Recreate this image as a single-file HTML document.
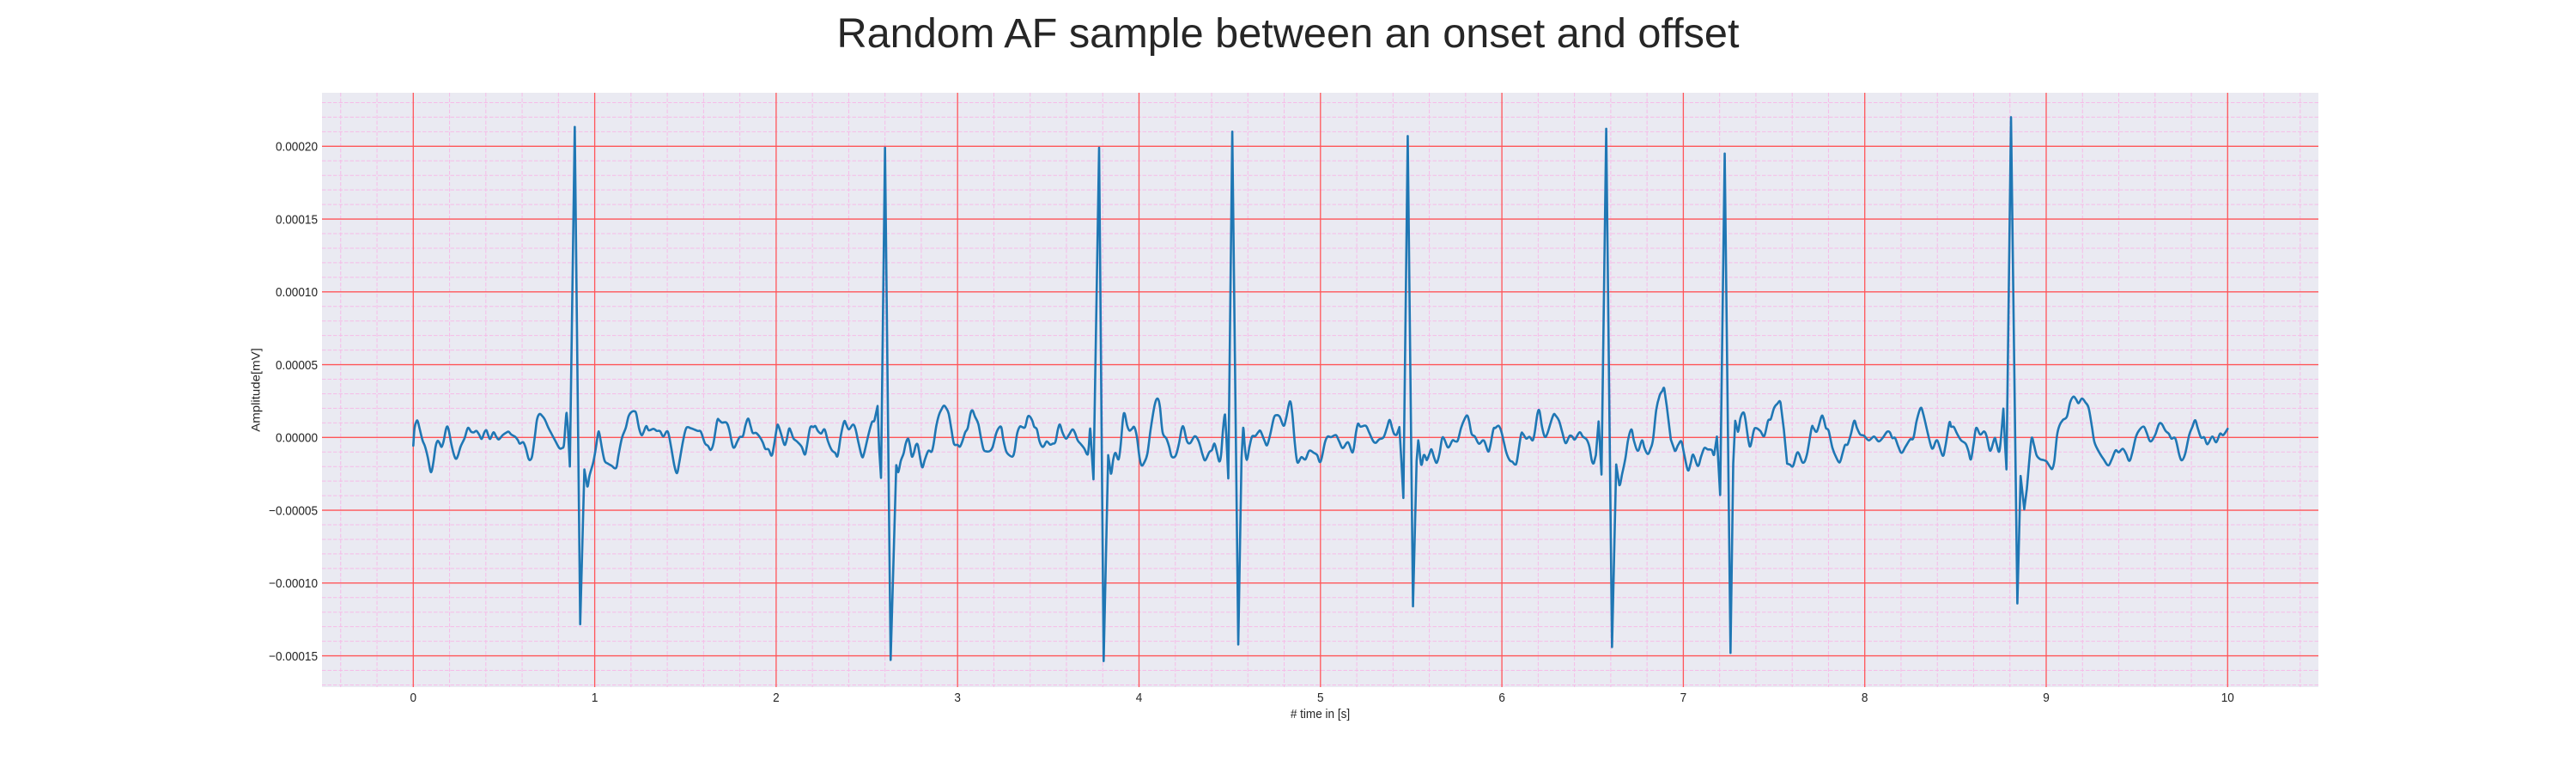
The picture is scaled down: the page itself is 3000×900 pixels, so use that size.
<!DOCTYPE html>
<html lang="en">
<head>
<meta charset="utf-8">
<title>Random AF sample between an onset and offset</title>
<style>
html,body{margin:0;padding:0;background:#fff;}
svg{display:block;}
text{font-family:"Liberation Sans",Arial,sans-serif;fill:#262626;}
</style>
</head>
<body>
<svg id="chart" xmlns="http://www.w3.org/2000/svg" width="3000" height="900" viewBox="0 0 3000 900">
  <rect x="0" y="0" width="3000" height="900" fill="#ffffff"/>
  <rect x="375" y="108" width="2325" height="692" fill="#eaeaf2"/>
  <g id="minor-grid"></g>
  <g id="major-grid"></g>
  <path id="ecg-line" fill="none" stroke="#1f77b4" stroke-width="2.6" stroke-linejoin="round" stroke-linecap="round"/>
  <g id="x-ticks"></g>
  <g id="y-ticks"></g>
  <text x="1500" y="55" text-anchor="middle" font-size="48.5" textLength="1051" lengthAdjust="spacingAndGlyphs">Random AF sample between an onset and offset</text>
  <text transform="translate(1537.5,836) scale(0.905,1)" text-anchor="middle" font-size="15"># time in [s]</text>
  <text transform="translate(302.5,454) rotate(-90) scale(1,0.905)" text-anchor="middle" font-size="15">Amplitude[mV]</text>
</svg>
<script>
// Tick values and labels
const xTickValues = [0,1,2,3,4,5,6,7,8,9,10];
const xTickLabels = ["0","1","2","3","4","5","6","7","8","9","10"];
const yTickValues = [-15,-10,-5,0,5,10,15,20]; // in 1e-5 mV
const yTickLabels = ["\u22120.00015","\u22120.00010","\u22120.00005","0.00000","0.00005","0.00010","0.00015","0.00020"];
const xMinorValues = [-0.4,-0.2,0.2,0.4,0.6,0.8,1.2,1.4,1.6,1.8,2.2,2.4,2.6,2.8,3.2,3.4,3.6,3.8,4.2,4.4,4.6,4.8,5.2,5.4,5.6,5.8,6.2,6.4,6.6,6.8,7.2,7.4,7.6,7.8,8.2,8.4,8.6,8.8,9.2,9.4,9.6,9.8,10.2,10.4];
const yMinorValues = [-17,-16,-14,-13,-12,-11,-9,-8,-7,-6,-4,-3,-2,-1,1,2,3,4,6,7,8,9,11,12,13,14,16,17,18,19,21,22,23];

// Signal: time in seconds
const timeSeconds = [
0,.007,.018,.025,.036,.051,.065,.080,.094,.102,.112,.123,.134,.145,.156,.167,.180,.189,.198,.210,.225,.236,.247,.261,.283,.301,.319,.334,.348,.363,.377,.392,.403,.413,.424,.442,.457,.471,.493,.515,.526,.540,.562,.577,.587,.606,.620,.635,.646,.656,.671,.682,.696,.711,.725,.743,.762,.783,.805,.820,.830,.838,.845,.852,.863,.890,.920,.943,.959,.972,.992,
1.005,1.019,1.026,1.041,1.055,1.073,1.095,1.110,1.121,1.131,1.150,1.171,1.186,1.200,1.218,1.229,1.244,1.258,1.269,1.284,1.298,1.324,1.342,1.360,1.378,1.396,1.407,1.422,1.440,1.454,1.465,1.487,1.505,1.530,1.567,1.585,1.607,1.625,1.639,1.654,1.675,1.686,1.701,1.726,1.741,1.759,1.770,1.784,1.799,1.817,1.831,1.846,1.860,1.871,1.889,1.908,1.926,1.940,1.958,1.975,1.987,
2.005,2.013,2.027,2.045,2.056,2.071,2.082,2.096,2.114,2.140,2.158,2.169,2.187,2.205,2.216,2.230,2.248,2.267,2.285,2.306,2.325,2.339,2.357,2.375,2.386,2.401,2.423,2.437,2.455,2.473,2.484,2.510,2.528,2.542,2.559,2.568,2.578,2.600,2.631,2.662,2.673,2.687,2.702,2.714,2.727,2.737,2.748,2.759,2.770,2.781,2.795,2.806,2.820,2.839,2.857,2.868,2.882,2.897,2.911,2.924,2.937,2.951,2.966,2.980,
3.000,3.013,3.027,3.042,3.056,3.071,3.082,3.096,3.114,3.129,3.143,3.158,3.180,3.194,3.212,3.227,3.241,3.252,3.267,3.281,3.303,3.314,3.328,3.343,3.357,3.372,3.386,3.397,3.412,3.422,3.437,3.451,3.466,3.477,3.491,3.510,3.524,3.539,3.553,3.564,3.578,3.597,3.615,3.633,3.647,3.662,3.680,3.698,3.716,3.723,3.731,3.738,3.749,3.780,3.805,3.830,3.845,3.858,3.870,3.887,3.898,3.912,3.921,3.934,3.947,3.961,3.974,3.988,
4.003,4.014,4.028,4.046,4.064,4.086,4.102,4.115,4.130,4.151,4.166,4.180,4.202,4.220,4.235,4.246,4.264,4.282,4.307,4.329,4.351,4.365,4.387,4.402,4.416,4.431,4.442,4.452,4.463,4.474,4.481,4.492,4.514,4.547,4.565,4.574,4.583,4.594,4.609,4.623,4.641,4.659,4.670,4.692,4.706,4.724,4.743,4.757,4.775,4.797,4.811,4.831,4.844,4.859,4.873,4.895,4.917,4.938,4.964,4.982,4.996,
5.007,5.025,5.040,5.058,5.085,5.102,5.123,5.152,5.178,5.196,5.207,5.221,5.250,5.268,5.290,5.305,5.323,5.348,5.366,5.381,5.395,5.406,5.421,5.435,5.446,5.457,5.481,5.510,5.530,5.539,5.555,5.569,5.580,5.587,5.601,5.612,5.627,5.641,5.656,5.670,5.681,5.699,5.710,5.728,5.743,5.757,5.775,5.793,5.808,5.819,5.833,5.851,5.873,5.895,5.906,5.924,5.935,5.953,5.964,5.982,5.996,
6.011,6.025,6.043,6.058,6.072,6.083,6.105,6.116,6.134,6.152,6.170,6.181,6.196,6.207,6.221,6.236,6.250,6.272,6.286,6.297,6.315,6.333,6.351,6.373,6.388,6.402,6.428,6.446,6.467,6.482,6.496,6.507,6.518,6.533,6.540,6.549,6.575,6.607,6.630,6.647,6.663,6.681,6.696,6.714,6.728,6.750,6.772,6.786,6.804,6.819,6.833,6.851,6.870,6.884,6.895,6.909,6.931,6.953,6.971,6.989,
7.004,7.025,7.040,7.054,7.080,7.098,7.116,7.134,7.156,7.170,7.185,7.203,7.228,7.260,7.275,7.286,7.301,7.315,7.330,7.341,7.359,7.370,7.388,7.399,7.424,7.446,7.467,7.482,7.500,7.518,7.536,7.554,7.572,7.587,7.605,7.630,7.659,7.681,7.707,7.717,7.736,7.761,7.772,7.786,7.801,7.822,7.844,7.862,7.877,7.891,7.906,7.924,7.942,7.957,7.975,7.996,
8.022,8.051,8.076,8.098,8.123,8.138,8.152,8.167,8.185,8.203,8.225,8.250,8.268,8.286,8.308,8.322,8.348,8.366,8.377,8.399,8.429,8.444,8.466,8.476,8.491,8.509,8.531,8.556,8.571,8.585,8.600,8.614,8.636,8.658,8.672,8.687,8.697,8.716,8.726,8.741,8.752,8.764,8.772,8.781,8.806,8.841,8.859,8.879,8.893,8.908,8.920,8.933,8.947,8.966,8.984,
9.002,9.020,9.033,9.045,9.060,9.074,9.092,9.114,9.132,9.150,9.165,9.178,9.197,9.216,9.234,9.252,9.266,9.292,9.317,9.342,9.361,9.382,9.400,9.422,9.440,9.458,9.473,9.495,9.516,9.538,9.553,9.574,9.600,9.621,9.636,9.658,9.676,9.690,9.712,9.734,9.748,9.766,9.788,9.806,9.821,9.835,9.853,9.871,9.889,9.915,9.937,9.958,9.976,10
];

// Signal: amplitude in units of 1e-5 mV
const amplitudeE5 = [
-.57,.65,1.12,1.10,.55,-.20,-.63,-1.37,-2.29,-2.29,-1.61,-.63,-.24,-.39,-.65,-.27,.55,.74,.35,-.47,-1.22,-1.47,-1.22,-.63,-.04,.65,.39,.35,.45,.20,-.10,.35,.49,.16,-.10,.35,.06,-.14,.16,.35,.39,.20,.04,-.20,-.43,-.33,-.73,-1.45,-1.53,-1.22,.16,1.23,1.61,1.47,1.23,.71,.25,-.24,-.73,-.73,-.53,.74,1.69,.74,-2.00,21.33,-12.83,-2.20,-3.37,-2.59,-1.71,
-.82,.31,.25,-.82,-1.61,-1.80,-1.96,-2.12,-2.00,-1.22,-.04,.65,1.43,1.72,1.80,1.63,.65,.16,.35,.78,.49,.59,.45,.43,.06,.41,.25,-.73,-2.00,-2.45,-1.80,-.24,.65,.63,.45,.39,-.39,-.59,-.86,-.43,1.14,1.18,1.02,1.02,.55,-.53,-.69,-.33,.02,.10,.84,1.29,.74,.31,.31,.06,-.33,-.78,-.82,-1.25,-.63,
.74,.78,.25,-.49,-.27,.59,.39,-.08,-.27,-.63,-1.18,-.63,.65,.71,.78,.45,.27,.55,-.24,-.86,-1.06,-1.25,.16,1.10,.90,.55,.88,.59,-.43,-1.31,-1.12,.25,1.04,1.18,2.16,-.82,-2.78,19.9,-15.28,-1.90,-2.39,-1.61,-1.12,-.43,-.08,-.53,-1.31,-1.06,-.53,-.53,-1.51,-2.06,-1.51,-.92,-.98,-.43,.74,1.53,1.92,2.18,2.02,1.63,.55,-.43,
-.51,-.63,-.24,.35,.65,1.63,1.86,1.43,.94,-.04,-.82,-.96,-.92,-.63,.25,.65,.69,-.14,-.92,-1.18,-1.31,-.92,.25,.74,.71,.71,1.39,1.45,1.14,.74,.55,-.24,-.63,-.57,-.27,-.49,-.43,-.31,.55,.88,.35,-.08,.20,.55,.31,-.20,-.47,-.76,-1.18,-.63,.61,-.82,-2.88,19.9,-15.36,-1.22,-2.49,-1.51,-1.06,-1.51,-.63,1.33,1.63,.84,.47,.59,.71,.06,
-1.41,-1.92,-1.74,-1.12,.55,2.21,2.67,2.12,.35,-.08,-.63,-1.31,-1.25,-.43,.59,.69,-.24,-.39,.08,-.27,-1.22,-1.57,-1.02,-.86,-.43,-1.12,-1.65,-1.22,.55,1.57,.16,-2.82,21.0,-14.22,-1.41,.65,-.63,-1.55,-.63,.06,.10,.39,.43,-.24,-.53,.25,1.33,1.53,1.43,.80,1.33,2.47,1.72,-.43,-1.71,-1.35,-1.51,-.92,-1.06,-1.22,-1.69,
-1.41,-.33,.06,.02,.16,-.24,-.73,-.33,-1.02,.35,.94,.74,.80,.35,-.24,-.37,-.14,.02,.65,1.20,.65,.25,.20,.71,-1.61,-4.16,20.7,-11.6,-1.61,-.20,-1.86,-1.22,-1.37,-1.55,-1.12,-.82,-1.41,-1.74,-1.12,-.08,-.08,-.63,-.63,-.20,-.27,-.20,.65,1.23,1.51,1.14,.25,.06,-.43,-.20,-.33,-.96,-.63,.55,.65,.80,.45,
-.33,-1.06,-1.57,-1.67,-1.86,-1.61,.16,.25,-.08,.04,-.20,.35,1.63,1.82,.74,.06,.25,1.14,1.59,1.49,1.14,.35,-.39,.10,.06,-.14,.35,.06,-.14,-.63,-1.61,-1.76,-1.22,1.10,-.43,-2.55,21.2,-14.4,-1.86,-3.27,-2.49,-1.41,-.14,.55,-.24,-.92,-.20,-.73,-1.14,-.78,-.14,1.92,2.90,3.19,3.35,2.12,-.14,-.92,-.53,-.27,
-1.12,-2.25,-1.80,-1.18,-1.96,-1.31,-.73,-.82,-.86,-1.18,.06,-3.96,19.5,-14.8,-1.80,1.14,.39,1.33,1.72,1.33,-.24,-.59,.45,.65,.45,.10,1.14,1.27,2.02,2.31,2.37,.55,-1.80,-1.86,-1.96,-1.02,-1.74,-1.18,.65,.65,.41,1.43,1.33,.65,.45,-.73,-1.41,-1.71,-1.12,-.53,-.47,.25,1.14,.65,.20,.12,
-.20,.06,-.27,-.04,.39,.35,-.04,-.04,-.63,-1.06,-.63,-.14,-.04,1.14,2.02,1.63,.25,-.63,-.73,-.20,-1.25,-.63,1.00,.74,.71,.25,-.20,-.43,-.92,-1.51,-.43,.65,.20,.41,.06,-.82,-.82,-.04,-.43,-.98,.16,1.98,-.24,-2.20,22.0,-11.4,-2.65,-4.94,-3.57,-1.41,-.04,-.53,-1.22,-1.49,-1.55,
-1.65,-2.00,-2.16,-1.61,.16,.84,1.20,1.43,2.41,2.80,2.61,2.35,2.67,2.41,2.02,.74,-.33,-1.02,-1.51,-1.92,-1.51,-.90,-1.02,-.78,-1.12,-1.61,-1.12,.06,.55,.74,.35,-.27,.16,.90,.94,.45,.25,-.08,-.08,-1.22,-1.57,-1.12,.16,.74,1.18,.65,0,0,-.47,.06,-.33,.25,.16,.59
];

// Axis functions
function xScale(t){ return 481.3 + t * 211.3; }
function yScale(v){ return 509.3 - v * 16.95; }

const NS = "http://www.w3.org/2000/svg";
const plotLeft = 375, plotRight = 2700, plotTop = 108, plotBottom = 800;

function gridLine(parent, x1, y1, x2, y2, stroke, width, dash){
  const el = document.createElementNS(NS, "line");
  el.setAttribute("x1", x1);
  el.setAttribute("y1", y1);
  el.setAttribute("x2", x2);
  el.setAttribute("y2", y2);
  el.setAttribute("stroke", stroke);
  el.setAttribute("stroke-width", width);
  if (dash) el.setAttribute("stroke-dasharray", dash);
  parent.appendChild(el);
  return el;
}

const minorGroup = document.getElementById("minor-grid");
const majorGroup = document.getElementById("major-grid");
const MINOR_COLOR = "#f6bce8", MAJOR_COLOR = "#ff5558";

xMinorValues.forEach(function(v){
  const el = gridLine(minorGroup, xScale(v), plotTop, xScale(v), plotBottom, MINOR_COLOR, 1, "4.5 2");
  
  
});
yMinorValues.forEach(function(v){
  const el = gridLine(minorGroup, plotLeft, yScale(v), plotRight, yScale(v), MINOR_COLOR, 1, "4.5 2");
  
  
});
xTickValues.forEach(function(v){
  const el = gridLine(majorGroup, xScale(v), plotTop, xScale(v), plotBottom, MAJOR_COLOR, 1.3);
  
  
});
yTickValues.forEach(function(v){
  const el = gridLine(majorGroup, plotLeft, yScale(v), plotRight, yScale(v), MAJOR_COLOR, 1.3);
  
  
});

const xTickGroup = document.getElementById("x-ticks");
xTickValues.forEach(function(v, i){
  const el = document.createElementNS(NS, "text");
  
  
  el.setAttribute("transform", "translate(" + xScale(v) + ",817) scale(0.905,1)");
  el.setAttribute("text-anchor", "middle");
  el.setAttribute("font-size", "15");
  el.textContent = xTickLabels[i];
  xTickGroup.appendChild(el);
});

const yTickGroup = document.getElementById("y-ticks");
yTickValues.forEach(function(v, i){
  const el = document.createElementNS(NS, "text");
  
  
  el.setAttribute("transform", "translate(370," + (yScale(v) + 5.3) + ") scale(0.905,1)");
  el.setAttribute("text-anchor", "end");
  el.setAttribute("font-size", "15");
  el.textContent = yTickLabels[i];
  yTickGroup.appendChild(el);
});

// Smooth the low-amplitude trace with Catmull-Rom segments; QRS spikes stay straight.
const pointCount = Math.min(timeSeconds.length, amplitudeE5.length);
const SPIKE_JUMP = 2.2;
let d = "";
for (let i = 0; i < pointCount; i++){
  const px = xScale(timeSeconds[i]), py = yScale(amplitudeE5[i]);
  if (i === 0){ d += "M" + px.toFixed(2) + " " + py.toFixed(2); continue; }
  const a = amplitudeE5[Math.max(i - 2, 0)], b = amplitudeE5[i - 1], c = amplitudeE5[i], e = amplitudeE5[Math.min(i + 1, pointCount - 1)];
  const steep = Math.abs(a - b) > SPIKE_JUMP || Math.abs(b - c) > SPIKE_JUMP || Math.abs(c - e) > SPIKE_JUMP;
  if (steep){
    d += "L" + px.toFixed(2) + " " + py.toFixed(2);
  } else {
    const t0 = timeSeconds[Math.max(i - 2, 0)], t1 = timeSeconds[i - 1], t2 = timeSeconds[i], t3 = timeSeconds[Math.min(i + 1, pointCount - 1)];
    const c1x = xScale(t1 + (t2 - t0) / 6), c1y = yScale(b + (c - a) / 6);
    const c2x = xScale(t2 - (t3 - t1) / 6), c2y = yScale(c - (e - b) / 6);
    d += "C" + c1x.toFixed(2) + " " + c1y.toFixed(2) + " " + c2x.toFixed(2) + " " + c2y.toFixed(2) + " " + px.toFixed(2) + " " + py.toFixed(2);
  }
}
document.getElementById("ecg-line").setAttribute("d", d);
</script>
</body>
</html>
